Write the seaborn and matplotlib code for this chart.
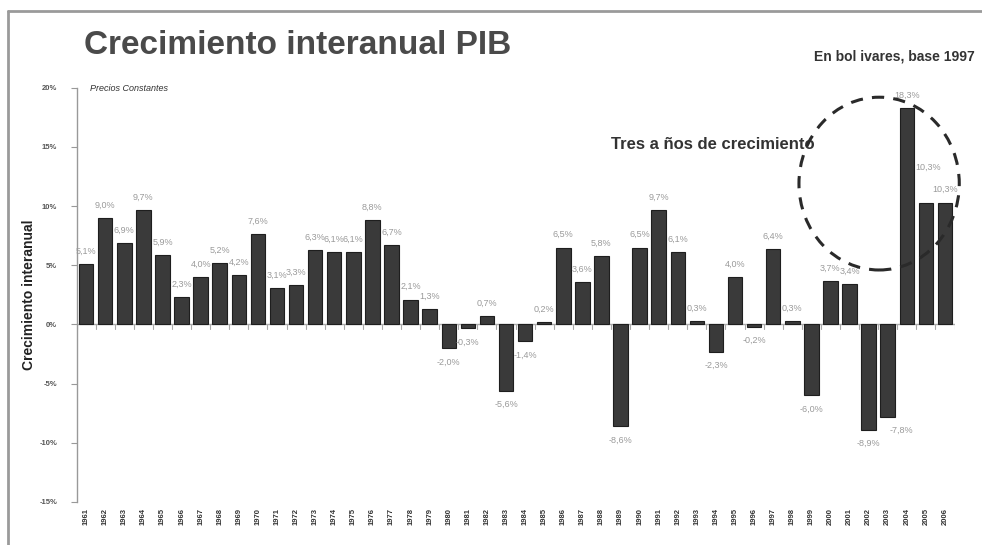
import matplotlib
matplotlib.use("Agg")
import matplotlib.pyplot as plt
from matplotlib.patches import Ellipse
from matplotlib.lines import Line2D
from matplotlib.ticker import FixedLocator
import seaborn as sns
import pandas as pd
import numpy as np

# Venezuela: crecimiento interanual del PIB a precios constantes (%)
years = list(range(1961, 2007))
growth = [5.1, 9.0, 6.9, 9.7, 5.9, 2.3, 4.0, 5.2, 4.2, 7.6,
          3.1, 3.3, 6.3, 6.1, 6.1, 8.8, 6.7, 2.1, 1.3, -2.0,
          -0.3, 0.7, -5.6, -1.4, 0.2, 6.5, 3.6, 5.8, -8.6, 6.5,
          9.7, 6.1, 0.3, -2.3, 4.0, -0.2, 6.4, 0.3, -6.0, 3.7,
          3.4, -8.9, -7.8, 18.3, 10.3, 10.3]
y_ticks = [-15, -10, -5, 0, 5, 10, 15, 20]

df = pd.DataFrame({"year": [str(y) for y in years], "growth": growth})

sns.set_theme(style="white")
plt.rcParams["font.family"] = ["Liberation Sans", "DejaVu Sans"]

fig = plt.figure(figsize=(9.82, 5.45), dpi=100)
ax = fig.add_axes([0.078, 0.079, 0.894, 0.760])

sns.barplot(data=df, x="year", y="growth", ax=ax, color="#3a3a3a",
            saturation=1, width=0.76, edgecolor="#1e1e1e", linewidth=0.8)

ax.set_xlim(-0.5, len(years) - 0.5)
ax.set_ylim(-15, 20)

# value labels (a few nudged sideways where neighbours collide)
nudge = {2003: (0.7, 0.0), 2005: (0.1, 1.9)}
for i, (yr, v) in enumerate(zip(years, growth)):
    txt = f"{v:.1f}%".replace(".", ",")
    dx, dy = nudge.get(yr, (0.0, 0.0))
    if v >= 0:
        ax.text(i + dx, v + 0.7 + dy, txt, ha="center", va="bottom",
                fontsize=6.5, color="#9a9a9a")
    else:
        ax.text(i + dx, v - 0.8 + dy, txt, ha="center", va="top",
                fontsize=6.5, color="#9a9a9a")

# y axis
ax.yaxis.set_major_locator(FixedLocator(y_ticks))
ax.set_yticklabels([f"{t}%" for t in y_ticks], fontsize=5.5,
                   fontweight="bold", color="#555555")
ax.tick_params(axis="y", which="major", length=4, width=0.8,
               color="#999999", left=True, pad=10)
ax.set_ylabel("Crecimiento interanual", fontsize=10, fontweight="bold",
              color="#222222", labelpad=2)

for s in ["top", "right", "bottom"]:
    ax.spines[s].set_visible(False)
ax.spines["left"].set_color("#999999")
ax.spines["left"].set_linewidth(1.0)

# category axis through zero, with separators between bars
ax.axhline(0, color="#aaaaaa", lw=1.0, zorder=0)
ax.set_xticks(np.arange(len(years)))
ax.set_xticklabels(years, rotation=90, fontsize=5.5, fontweight="bold",
                   color="#333333")
ax.tick_params(axis="x", which="major", length=0, pad=4)
ax.set_xlabel("")
for b in np.arange(len(years) + 1) - 0.5:
    ax.plot([b, b], [0, -0.35], color="#aaaaaa", lw=0.8, zorder=0)

# highlight of the last three years
ax.add_patch(Ellipse((41.55, 11.9), 8.4, 14.6, fill=False, ls=(0, (4, 3)),
                     lw=2.2, edgecolor="#2a2a2a", zorder=4, clip_on=False))
ax.text(27.5, 15.2, "Tres a ños de crecimiento",
        fontsize=12, fontweight="bold", color="#333333", va="center")

# texts
fig.text(0.086, 0.917, "Crecimiento interanual PIB", fontsize=24,
         fontweight="bold", color="#4a4a4a", va="center")
fig.text(0.993, 0.897, "En bol ivares, base 1997", fontsize=10,
         fontweight="bold", color="#333333", ha="right", va="center")
fig.text(0.092, 0.838, "Precios Constantes", fontsize=6.5, style="italic",
         color="#333333", va="center")

# frame
fig.add_artist(Line2D([0.008, 1.0], [0.980, 0.980], color="#9a9a9a", lw=2,
                      transform=fig.transFigure))
fig.add_artist(Line2D([0.008, 0.008], [0.0, 0.980], color="#9a9a9a", lw=2,
                      transform=fig.transFigure))

fig.savefig("out.png", dpi=100, facecolor="white")
